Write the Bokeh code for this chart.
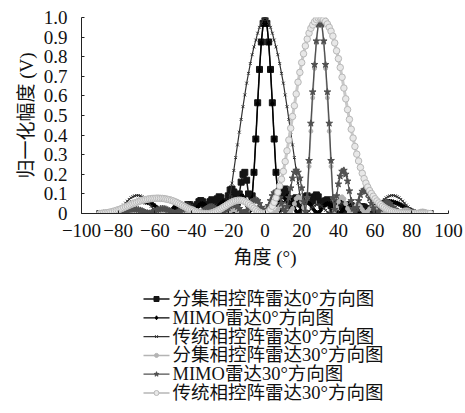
from bokeh.plotting import figure
from bokeh.layouts import column
from bokeh.models import FixedTicker, Range1d
from bokeh.core.properties import value
from bokeh.embed import file_html
from bokeh.resources import INLINE

# angle grid (deg)
angles = list(range(-90, 91))

# 分集相控阵雷达0°方向图
fenji_0 = [
    0, 0, 0, 0, 0, 0, 0, 0, 0, 0,
    0, 0, 0, 0, 0, 0, 0, 0, 0, 0,
    0, 0, 0, 0, 0, 0, 0, 0, 0, 0,
    0, 0, 0, 0, 0, 0, 0, 0, 0.002, 0.005,
    0.008, 0.015, 0.02, 0.02, 0.015, 0.012, 0.02, 0.035, 0.045, 0.045,
    0.035, 0.025, 0.03, 0.045, 0.06, 0.066, 0.06, 0.045, 0.03, 0.04,
    0.06, 0.07, 0.066, 0.055, 0.075, 0.085, 0.08, 0.06, 0.04, 0.055,
    0.09, 0.12, 0.125, 0.11, 0.08, 0.06, 0.1, 0.16, 0.2, 0.21,
    0.17, 0.1, 0.04, 0.09, 0.21, 0.38, 0.565, 0.735, 0.875, 0.97,
    1.0, 0.97, 0.875, 0.735, 0.565, 0.38, 0.21, 0.09, 0.05, 0.09,
    0.12, 0.125, 0.1, 0.065, 0.04, 0.055, 0.075, 0.08, 0.07, 0.05,
    0.045, 0.065, 0.085, 0.09, 0.08, 0.06, 0.065, 0.085, 0.095, 0.085,
    0.06, 0.04, 0.05, 0.065, 0.07, 0.06, 0.04, 0.025, 0.035, 0.05,
    0.055, 0.05, 0.035, 0.02, 0.03, 0.04, 0.045, 0.04, 0.03, 0.02,
    0.015, 0.02, 0.03, 0.035, 0.033, 0.025, 0.015, 0.008, 0.003, 0,
    0, 0, 0, 0, 0, 0, 0, 0, 0, 0,
    0, 0, 0, 0, 0, 0, 0, 0, 0, 0,
    0, 0, 0, 0, 0, 0, 0, 0, 0, 0,
    0,
]

# MIMO雷达0°方向图
mimo_0 = [
    0, 0, 0, 0, 0.001, 0.002, 0.003, 0.005, 0.007, 0.010,
    0.014, 0.018, 0.023, 0.028, 0.033, 0.038, 0.043, 0.048, 0.052, 0.055,
    0.058, 0.060, 0.061, 0.061, 0.060, 0.059, 0.057, 0.054, 0.050, 0.045,
    0.039, 0.031, 0.023, 0.015, 0.008, 0.004, 0.002, 0.003, 0.008, 0.017,
    0.027, 0.037, 0.045, 0.049, 0.049, 0.045, 0.036, 0.025, 0.013, 0.004,
    0.002, 0.008, 0.018, 0.030, 0.041, 0.048, 0.050, 0.046, 0.037, 0.025,
    0.012, 0.004, 0.005, 0.014, 0.028, 0.042, 0.053, 0.058, 0.055, 0.045,
    0.030, 0.014, 0.004, 0.010, 0.028, 0.052, 0.075, 0.088, 0.088, 0.075,
    0.050, 0.020, 0.015, 0.080, 0.210, 0.380, 0.560, 0.730, 0.870, 0.965,
    1.000, 0.965, 0.870, 0.730, 0.560, 0.380, 0.210, 0.080, 0.015, 0.020,
    0.050, 0.075, 0.088, 0.088, 0.075, 0.052, 0.028, 0.010, 0.004, 0.014,
    0.030, 0.045, 0.055, 0.058, 0.053, 0.042, 0.028, 0.014, 0.005, 0.004,
    0.012, 0.025, 0.037, 0.046, 0.050, 0.048, 0.041, 0.030, 0.018, 0.008,
    0.002, 0.004, 0.013, 0.025, 0.036, 0.045, 0.049, 0.049, 0.045, 0.037,
    0.027, 0.017, 0.008, 0.003, 0.002, 0.004, 0.008, 0.015, 0.023, 0.031,
    0.039, 0.045, 0.050, 0.054, 0.057, 0.059, 0.060, 0.061, 0.061, 0.060,
    0.058, 0.055, 0.052, 0.048, 0.043, 0.038, 0.033, 0.028, 0.023, 0.018,
    0.014, 0.010, 0.007, 0.005, 0.003, 0.002, 0.001, 0, 0, 0,
    0,
]

# 传统相控阵雷达0°方向图
chuantong_0 = [
    0, 0, 0, 0, 0.001, 0.002, 0.003, 0.005, 0.008, 0.013,
    0.019, 0.026, 0.034, 0.043, 0.053, 0.063, 0.072, 0.080, 0.086, 0.090,
    0.092, 0.092, 0.090, 0.086, 0.080, 0.072, 0.062, 0.050, 0.037, 0.024,
    0.012, 0.004, 0.001, 0.003, 0.008, 0.013, 0.017, 0.019, 0.018, 0.014,
    0.008, 0.005, 0.010, 0.022, 0.035, 0.045, 0.052, 0.055, 0.054, 0.049,
    0.041, 0.031, 0.020, 0.010, 0.003, 0.002, 0.007, 0.016, 0.026, 0.036,
    0.043, 0.046, 0.045, 0.040, 0.032, 0.022, 0.012, 0.004, 0.003, 0.012,
    0.045, 0.095, 0.155, 0.220, 0.285, 0.350, 0.415, 0.480, 0.545, 0.605,
    0.665, 0.715, 0.765, 0.810, 0.850, 0.885, 0.920, 0.950, 0.970, 0.990,
    1.000, 0.990, 0.970, 0.950, 0.920, 0.885, 0.850, 0.810, 0.765, 0.715,
    0.665, 0.605, 0.545, 0.480, 0.415, 0.350, 0.285, 0.220, 0.155, 0.095,
    0.045, 0.012, 0.003, 0.004, 0.012, 0.022, 0.032, 0.040, 0.045, 0.046,
    0.043, 0.036, 0.026, 0.016, 0.007, 0.002, 0.003, 0.010, 0.020, 0.031,
    0.041, 0.049, 0.054, 0.055, 0.052, 0.045, 0.035, 0.022, 0.010, 0.005,
    0.008, 0.014, 0.018, 0.019, 0.017, 0.013, 0.008, 0.003, 0.001, 0.004,
    0.012, 0.024, 0.037, 0.050, 0.062, 0.072, 0.080, 0.086, 0.090, 0.092,
    0.092, 0.090, 0.086, 0.080, 0.072, 0.063, 0.053, 0.043, 0.034, 0.026,
    0.019, 0.013, 0.008, 0.005, 0.003, 0.002, 0.001, 0, 0, 0,
    0,
]

# 分集相控阵雷达30°方向图
fenji_30 = [
    0.0, 0.001, 0.002, 0.003, 0.004, 0.004, 0.003, 0.002, 0.001, 0.001,
    0.003, 0.004, 0.005, 0.005, 0.004, 0.003, 0.001, 0.001, 0.002, 0.004,
    0.005, 0.006, 0.005, 0.004, 0.002, 0.001, 0.002, 0.004, 0.006, 0.007,
    0.007, 0.006, 0.004, 0.002, 0.001, 0.003, 0.006, 0.008, 0.009, 0.008,
    0.006, 0.003, 0.001, 0.002, 0.005, 0.008, 0.010, 0.010, 0.008, 0.005,
    0.002, 0.001, 0.003, 0.006, 0.009, 0.011, 0.011, 0.009, 0.006, 0.003,
    0.002, 0.004, 0.008, 0.011, 0.013, 0.012, 0.009, 0.005, 0.002, 0.003,
    0.007, 0.012, 0.017, 0.019, 0.018, 0.014, 0.008, 0.003, 0.002, 0.006,
    0.013, 0.020, 0.025, 0.025, 0.020, 0.012, 0.004, 0.003, 0.010, 0.020,
    0.030, 0.034, 0.032, 0.024, 0.012, 0.003, 0.007, 0.020, 0.035, 0.045,
    0.045, 0.035, 0.020, 0.005, 0.008, 0.025, 0.050, 0.075, 0.085, 0.080,
    0.060, 0.030, 0.015, 0.080, 0.240, 0.420, 0.590, 0.740, 0.870, 0.960,
    1.000, 0.960, 0.870, 0.740, 0.590, 0.420, 0.240, 0.080, 0.015, 0.030,
    0.060, 0.080, 0.085, 0.075, 0.050, 0.025, 0.008, 0.005, 0.020, 0.035,
    0.045, 0.045, 0.035, 0.020, 0.007, 0.003, 0.012, 0.024, 0.032, 0.034,
    0.030, 0.020, 0.010, 0.003, 0.004, 0.012, 0.020, 0.025, 0.025, 0.020,
    0.013, 0.006, 0.002, 0.003, 0.008, 0.014, 0.018, 0.019, 0.017, 0.012,
    0.007, 0.003, 0.002, 0.005, 0.009, 0.012, 0.013, 0.011, 0.008, 0.004,
    0.002,
]

# MIMO雷达30°方向图
mimo_30 = [
    0.000, 0.000, 0.001, 0.001, 0.001, 0.001, 0.001, 0.001, 0.001, 0.002,
    0.003, 0.005, 0.007, 0.010, 0.013, 0.016, 0.019, 0.021, 0.022, 0.022,
    0.021, 0.019, 0.016, 0.013, 0.009, 0.005, 0.002, 0.001, 0.003, 0.007,
    0.012, 0.017, 0.021, 0.024, 0.025, 0.024, 0.022, 0.018, 0.013, 0.008,
    0.003, 0.001, 0.003, 0.008, 0.014, 0.020, 0.025, 0.028, 0.029, 0.027,
    0.023, 0.017, 0.010, 0.004, 0.001, 0.004, 0.010, 0.017, 0.024, 0.030,
    0.033, 0.033, 0.030, 0.024, 0.016, 0.008, 0.002, 0.003, 0.009, 0.018,
    0.028, 0.037, 0.043, 0.045, 0.042, 0.035, 0.025, 0.012, 0.003, 0.005,
    0.015, 0.030, 0.045, 0.060, 0.068, 0.070, 0.065, 0.050, 0.030, 0.010,
    0.005, 0.020, 0.040, 0.065, 0.090, 0.105, 0.110, 0.100, 0.080, 0.050,
    0.020, 0.010, 0.035, 0.080, 0.130, 0.180, 0.210, 0.220, 0.210, 0.180,
    0.130, 0.060, 0.010, 0.080, 0.270, 0.460, 0.620, 0.760, 0.880, 0.965,
    1.000, 0.965, 0.880, 0.760, 0.620, 0.460, 0.270, 0.080, 0.020, 0.090,
    0.150, 0.190, 0.215, 0.220, 0.200, 0.165, 0.115, 0.065, 0.025, 0.010,
    0.030, 0.065, 0.095, 0.113, 0.120, 0.115, 0.100, 0.078, 0.052, 0.028,
    0.010, 0.002, 0.010, 0.025, 0.040, 0.050, 0.055, 0.055, 0.050, 0.040,
    0.030, 0.020, 0.012, 0.006, 0.003, 0.002, 0.002, 0.001, 0.001, 0.001,
    0.001, 0.001, 0.001, 0, 0, 0, 0, 0, 0, 0,
    0,
]

# 传统相控阵雷达30°方向图
chuantong_30 = [
    0.000, 0.001, 0.002, 0.003, 0.004, 0.006, 0.008, 0.010, 0.013, 0.016,
    0.019, 0.022, 0.026, 0.030, 0.034, 0.038, 0.042, 0.046, 0.050, 0.054,
    0.057, 0.061, 0.064, 0.067, 0.069, 0.071, 0.073, 0.075, 0.076, 0.077,
    0.077, 0.078, 0.078, 0.077, 0.077, 0.076, 0.074, 0.072, 0.070, 0.067,
    0.064, 0.060, 0.056, 0.051, 0.046, 0.041, 0.036, 0.031, 0.026, 0.022,
    0.019, 0.015, 0.011, 0.008, 0.005, 0.003, 0.001, 0.000, 0.000, 0.000,
    0.001, 0.003, 0.006, 0.010, 0.014, 0.019, 0.024, 0.030, 0.036, 0.042,
    0.048, 0.053, 0.058, 0.062, 0.065, 0.067, 0.068, 0.067, 0.065, 0.061,
    0.056, 0.050, 0.043, 0.035, 0.027, 0.019, 0.012, 0.006, 0.002, 0.000,
    0.000, 0.003, 0.010, 0.021, 0.037, 0.057, 0.080, 0.108, 0.140, 0.175,
    0.215, 0.265, 0.320, 0.375, 0.435, 0.495, 0.550, 0.610, 0.670, 0.720,
    0.770, 0.815, 0.855, 0.890, 0.920, 0.945, 0.962, 0.978, 0.990, 0.997,
    1.000, 0.997, 0.990, 0.980, 0.967, 0.950, 0.930, 0.905, 0.870, 0.830,
    0.790, 0.745, 0.695, 0.640, 0.585, 0.530, 0.480, 0.430, 0.385, 0.342,
    0.303, 0.268, 0.235, 0.205, 0.178, 0.155, 0.135, 0.117, 0.102, 0.088,
    0.075, 0.064, 0.054, 0.045, 0.037, 0.030, 0.024, 0.019, 0.015, 0.012,
    0.009, 0.007, 0.005, 0.004, 0.003, 0.002, 0.002, 0.001, 0.001, 0.001,
    0.001, 0.001, 0.001, 0.000, 0.000, 0.000, 0.000, 0.000, 0.000, 0.000,
    0.000,
]

series_names = [
    "分集相控阵雷达0°方向图",
    "MIMO雷达0°方向图",
    "传统相控阵雷达0°方向图",
    "分集相控阵雷达30°方向图",
    "MIMO雷达30°方向图",
    "传统相控阵雷达30°方向图",
]

x_ticks = [-100, -80, -60, -40, -20, 0, 20, 40, 60, 80, 100]
x_tick_labels = ["−100", "−80", "−60", "−40", "−20", "0", "20", "40", "60", "80", "100"]
y_ticks = [0, 0.1, 0.2, 0.3, 0.4, 0.5, 0.6, 0.7, 0.8, 0.9, 1.0]
y_tick_labels = ["0", "0.1", "0.2", "0.3", "0.4", "0.5", "0.6", "0.7", "0.8", "0.9", "1.0"]

SERIF = "Liberation Serif, Noto Sans CJK SC"

styles = [
    dict(data=fenji_0, color="#151515", lw=1.5, marker="square", size=6,
         fill="#151515", mline="#151515", lsize=5),
    dict(data=mimo_0, color="#000000", lw=1.2, marker="diamond", size=5,
         fill="#000000", mline="#000000", lsize=4),
    dict(data=chuantong_0, color="#333333", lw=1.2, marker="x", size=4,
         fill="#333333", mline="#333333", lsize=4),
    dict(data=fenji_30, color="#b4b4b4", lw=1.5, marker="circle", size=4,
         fill="#b4b4b4", mline="#b4b4b4", lsize=4),
    dict(data=mimo_30, color="#505050", lw=1.3, marker="star", size=7,
         fill="#505050", mline="#505050", lsize=5),
    dict(data=chuantong_30, color="#c8c8c8", lw=3, marker="circle", size=6.5,
         fill="#e8e8e8", mline="#b8b8b8", lsize=5),
]

W = 464
FRAME_L, FRAME_R = 81, 16

# ---------------- main chart ----------------
H_MAIN = 280
p = figure(width=W, height=H_MAIN,
           x_range=Range1d(-100, 100), y_range=Range1d(0, 1.0),
           output_backend="svg", toolbar_location=None,
           min_border_left=FRAME_L, min_border_right=FRAME_R,
           min_border_top=17, min_border_bottom=H_MAIN - 213)
p.outline_line_color = None
p.xgrid.visible = False
p.ygrid.visible = False
p.background_fill_color = "white"
p.border_fill_color = "white"

for st in styles:
    p.line(angles, st["data"], line_color=st["color"], line_width=st["lw"])
    p.scatter(angles, st["data"], marker=st["marker"], size=st["size"],
              fill_color=st["fill"], line_color=st["mline"], line_width=1)

p.xaxis.ticker = FixedTicker(ticks=x_ticks)
p.xaxis.major_label_overrides = dict(zip(x_ticks, x_tick_labels))
p.yaxis.ticker = FixedTicker(ticks=y_ticks)
p.yaxis.major_label_overrides = dict(zip(y_ticks, y_tick_labels))

for ax in (p.xaxis, p.yaxis):
    ax.axis_line_color = "#222222"
    ax.axis_line_width = 1
    ax.major_tick_line_color = "#222222"
    ax.major_tick_in = 3
    ax.major_tick_out = 0
    ax.minor_tick_line_color = None
    ax.major_label_text_font = SERIF
    ax.major_label_text_font_size = "19px"
    ax.major_label_text_color = "#111111"
    ax.axis_label_text_font = SERIF
    ax.axis_label_text_font_size = "19px"
    ax.axis_label_text_font_style = "normal"
    ax.axis_label_text_color = "#111111"

p.xaxis.axis_label = "角度 (°)"
p.yaxis.axis_label = "归一化幅度 (V)"
p.xaxis.major_label_standoff = 10
p.xaxis.axis_label_standoff = 7
p.yaxis.major_label_standoff = 14
p.yaxis.axis_label_standoff = 4

# ---------------- legend panel (drawn in pixel units of the page) ----------------
H_LEG = 412 - H_MAIN
lg = figure(width=W, height=H_LEG,
            x_range=Range1d(FRAME_L, W - FRAME_R), y_range=Range1d(412, H_MAIN),
            output_backend="svg", toolbar_location=None,
            x_axis_location=None, y_axis_location=None,
            min_border_left=FRAME_L, min_border_right=FRAME_R,
            min_border_top=0, min_border_bottom=0)
lg.outline_line_color = None
lg.xgrid.visible = False
lg.ygrid.visible = False
lg.border_fill_color = "white"
lg.background_fill_color = "white"

LEG_X0, LEG_X1, LEG_TX = 143, 169, 172
LEG_Y0, LEG_DY = 298.5, 18.8

for i, (name, st) in enumerate(zip(series_names, styles)):
    yy = LEG_Y0 + LEG_DY * i
    lw = 2 if st["lw"] > 2 else st["lw"]
    lg.line([LEG_X0, LEG_X1], [yy, yy], line_color=st["color"], line_width=lw)
    lg.scatter([(LEG_X0 + LEG_X1) / 2], [yy], marker=st["marker"], size=st["lsize"],
               fill_color=st["fill"], line_color=st["mline"], line_width=1)
    lg.text([LEG_TX], [yy], text=[name], text_baseline="middle", text_align="left",
            text_font=value(SERIF), text_font_size="18.5px", text_color="#111111")

layout = column(p, lg, spacing=0)
open("out.html", "w").write(file_html(layout, INLINE))
